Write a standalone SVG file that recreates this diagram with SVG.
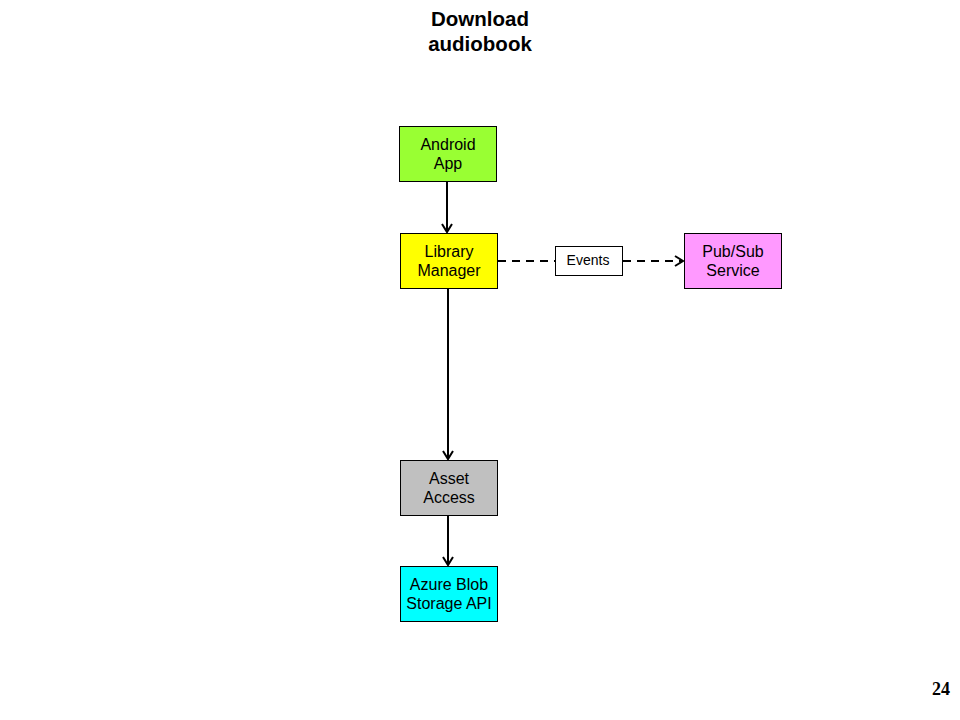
<svg xmlns="http://www.w3.org/2000/svg" width="960" height="720" viewBox="0 0 960 720">
<style>
.box{stroke:#000;stroke-width:1}
.lbl{font-family:"Liberation Sans",Arial,sans-serif;font-size:16px;text-anchor:middle;fill:#000}
.edge{stroke:#000;stroke-width:2;fill:none}
.dash{stroke-dasharray:8,6}
</style>
<defs>
<marker id="arr" viewBox="0 0 12 12" refX="10" refY="6" markerWidth="12" markerHeight="12" markerUnits="userSpaceOnUse" orient="auto">
<path d="M2,1 L10,6 L2,11" fill="none" stroke="#000" stroke-width="2"/>
</marker>
</defs>
<rect width="960" height="720" fill="#fff"/>
<g id="title">
<text x="480" y="26" font-family="'Liberation Sans',Arial,sans-serif" font-size="20.5" font-weight="bold" text-anchor="middle">Download</text>
<text x="480" y="51" font-family="'Liberation Sans',Arial,sans-serif" font-size="20.5" font-weight="bold" text-anchor="middle">audiobook</text>
</g>
<g id="connectors">
<line class="edge" x1="447" y1="182" x2="447" y2="232" marker-end="url(#arr)"/>
<line class="edge" x1="448" y1="289" x2="448" y2="459" marker-end="url(#arr)"/>
<line class="edge" x1="448" y1="516" x2="448" y2="565" marker-end="url(#arr)"/>
<line class="edge dash" x1="498" y1="261" x2="555" y2="261"/>
<line class="edge dash" x1="623" y1="261" x2="683" y2="261" marker-end="url(#arr)"/>
</g>
<g id="android">
<rect class="box" x="399.5" y="126.5" width="97" height="55" fill="#99ff33"/>
<text class="lbl" x="448" y="150">Android</text>
<text class="lbl" x="448" y="169">App</text>
</g>
<g id="library">
<rect class="box" x="400.5" y="233.5" width="97" height="55" fill="#ffff00"/>
<text class="lbl" x="449" y="257">Library</text>
<text class="lbl" x="449" y="276">Manager</text>
</g>
<g id="events">
<rect class="box" x="555.5" y="246.5" width="67" height="29" fill="#fff"/>
<text x="588" y="265" font-family="'Liberation Sans',Arial,sans-serif" font-size="14" text-anchor="middle">Events</text>
</g>
<g id="pubsub">
<rect class="box" x="684.5" y="233.5" width="97" height="55" fill="#ff99ff"/>
<text class="lbl" x="733" y="257">Pub/Sub</text>
<text class="lbl" x="733" y="276">Service</text>
</g>
<g id="asset">
<rect class="box" x="400.5" y="460.5" width="97" height="55" fill="#c0c0c0"/>
<text class="lbl" x="449" y="484">Asset</text>
<text class="lbl" x="449" y="503">Access</text>
</g>
<g id="azure">
<rect class="box" x="400.5" y="566.5" width="97" height="55" fill="#00ffff"/>
<text class="lbl" x="449" y="590">Azure Blob</text>
<text class="lbl" x="449" y="609">Storage API</text>
</g>
<g id="page">
<text x="950" y="695" font-family="'Liberation Serif','Times New Roman',serif" font-size="18" font-weight="bold" text-anchor="end">24</text>
</g>
</svg>
